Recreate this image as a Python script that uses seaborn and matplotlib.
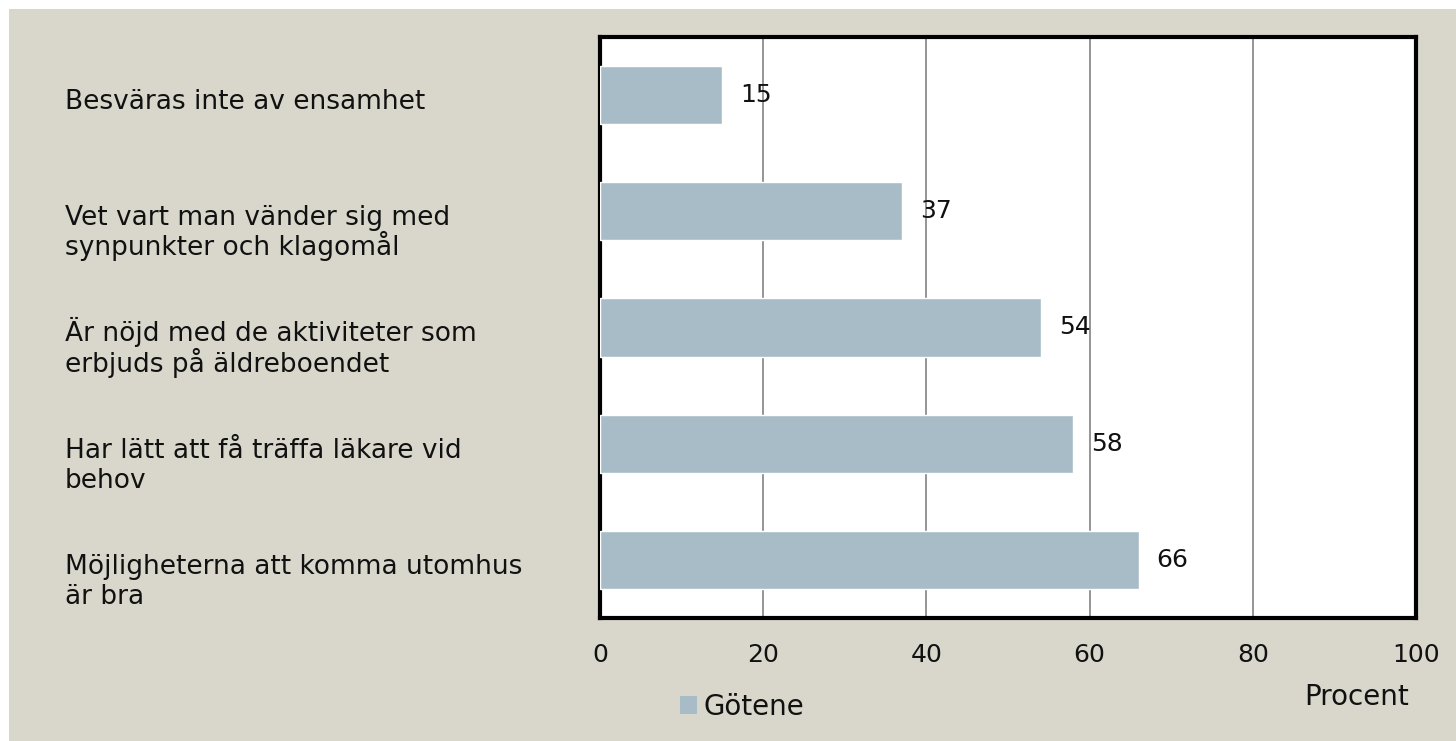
import matplotlib
matplotlib.use('Agg')
import matplotlib.pyplot as plt
import matplotlib.transforms as mtransforms
from matplotlib.patches import Rectangle
import seaborn as sns
import pandas as pd

# --- data ---
categories = [
    "Besväras inte av ensamhet",
    "Vet vart man vänder sig med\nsynpunkter och klagomål",
    "Är nöjd med de aktiviteter som\nerbjuds på äldreboendet",
    "Har lätt att få träffa läkare vid\nbehov",
    "Möjligheterna att komma utomhus\när bra",
]
values = [15, 37, 54, 58, 66]
series_name = "Götene"
x_ticks = [0, 20, 40, 60, 80, 100]
x_label = "Procent"

BG = '#D9D7CB'
BAR = '#A7BCC6'
GRID = '#8C8C8C'
TXT = '#111111'

sns.set_theme(style='white')
plt.rcParams['font.family'] = ['DejaVu Sans']

df = pd.DataFrame({'kategori': categories, 'procent': values})

W, H = 1456, 741
fig = plt.figure(figsize=(W / 100, H / 100), dpi=100, facecolor='white')
# beige panel, leaves a thin white strip on top and left like the original
fig.patches.append(Rectangle((9 / W, 0), 1, 1 - 9 / H, transform=fig.transFigure,
                             facecolor=BG, edgecolor='none', zorder=-10))

ax = fig.add_axes([600 / W, (H - 618) / H, (1416 - 600) / W, (618 - 37) / H])
ax.set_facecolor('white')

sns.barplot(data=df, x='procent', y='kategori', orient='h', color=BAR,
            saturation=1, width=0.5, ax=ax, zorder=3)

ax.set_xlim(0, 100)
ax.set_xticks(x_ticks)
ax.set_xticklabels([str(t) for t in x_ticks], fontsize=18, color=TXT)
ax.tick_params(axis='x', length=0, pad=18)
ax.set_yticks([])
ax.set_xlabel('')
ax.set_ylabel('')
ax.xaxis.grid(True, color=GRID, linewidth=1.3)
ax.yaxis.grid(False)
ax.set_axisbelow(True)

for sp in ax.spines.values():
    sp.set_visible(True)
    sp.set_color('black')
    sp.set_linewidth(3)

# value labels next to bars
ax.bar_label(ax.containers[0], labels=[str(v) for v in values],
             padding=13, fontsize=18, color=TXT)

# category labels, left aligned out in the beige margin.
# each line placed on its own baseline: first one a bit below the bar centre
trans = mtransforms.blended_transform_factory(fig.transFigure, ax.transData)
line_step = 0.26
for i, cat in enumerate(categories):
    for k, line in enumerate(cat.split('\n')):
        ax.text(65 / W, i + 0.12 + k * line_step, line, transform=trans,
                ha='left', va='baseline', fontsize=19, color=TXT, clip_on=False)

# legend
handle = Rectangle((0, 0), 1, 1, facecolor=BAR, edgecolor='none')
fig.legend([handle], [series_name], loc='center left',
           bbox_to_anchor=(680 / W, 1 - 707 / H), frameon=False,
           fontsize=20, labelcolor=TXT, handlelength=0.6, handleheight=0.6,
           handletextpad=0.25, borderaxespad=0, borderpad=0)

fig.text(1357 / W, 1 - 697 / H, x_label, ha='center', va='center',
         fontsize=20, color=TXT)

fig.savefig('out.png', dpi=100, facecolor=fig.get_facecolor())
